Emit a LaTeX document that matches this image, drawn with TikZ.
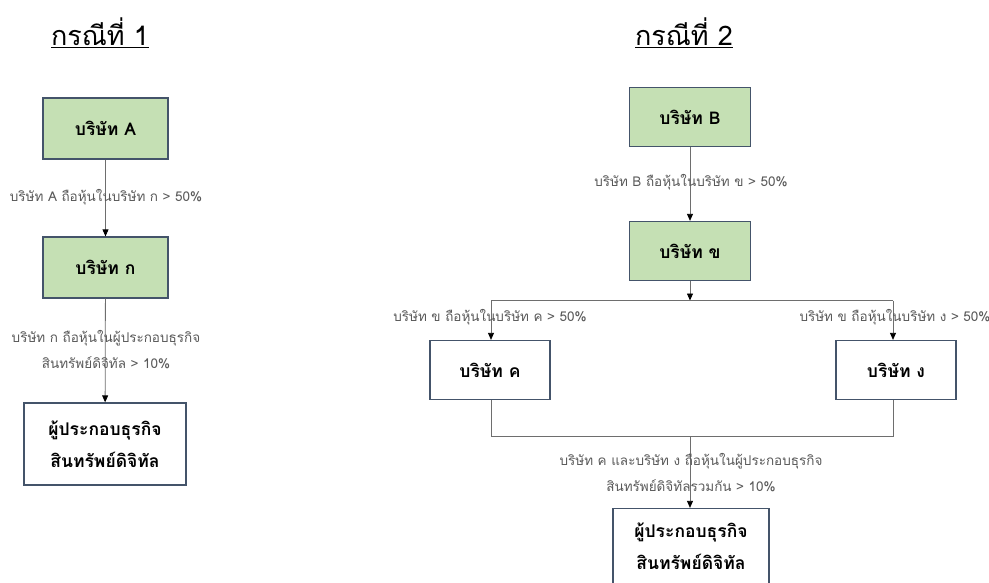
\documentclass[tikz,border=0pt]{standalone}
\usepackage{fontspec}
\newfontfamily\thaifont[Script=Thai]{Loma}
\usetikzlibrary{arrows.meta,calc}
\definecolor{boxgreen}{RGB}{197,224,180}
\definecolor{boxedge}{RGB}{68,84,106}
\definecolor{labelgray}{RGB}{89,89,89}
\definecolor{linegray}{RGB}{110,110,110}
\tikzset{
  basebox/.style={draw=boxedge, line width=1.3pt, inner sep=0pt, font=\thaifont\bfseries\fontsize{17.5}{32}\selectfont, align=center},
  greenbox/.style={basebox, fill=boxgreen},
  whitebox/.style={basebox, fill=white},
  conn/.style={draw=linegray, line width=0.8pt, -{Triangle[length=7pt,width=6pt,fill=black,color=black]}},
  plainline/.style={draw=linegray, line width=0.8pt},
  lbl/.style={font=\thaifont\fontsize{13.5}{26}\selectfont, text=labelgray, align=center, inner sep=0pt},
  ttl/.style={font=\thaifont\fontsize{27}{30}\selectfont, inner sep=0pt}
}
\begin{document}
\begin{tikzpicture}[x=1pt,y=-1pt]
\useasboundingbox (0,0) rectangle (989,582);
\clip (0,0) rectangle (989,582);
% titles
\node[ttl] (t1) at (100,33) {\underline{กรณีที่ 1}};
\node[ttl] (t2) at (684,33) {\underline{กรณีที่ 2}};
% case 1
\node[greenbox, minimum width=125pt, minimum height=61pt] (A) at (105.5,128.5) {บริษัท A};
\node[greenbox, minimum width=125pt, minimum height=61pt] (K) at (105.5,267.5) {บริษัท ก};
\node[whitebox, minimum width=162pt, minimum height=82pt] (F1) at (105,444) {ผู้ประกอบธุรกิจ\\สินทรัพย์ดิจิทัล};
\draw[conn] (A) -- (K);
\draw[conn] (K) -- (F1);
\node[lbl] (lA) at (106,197.5) {บริษัท A ถือหุ้นในบริษัท ก > 50\%};
\node[lbl] (lK) at (106,350) {บริษัท ก ถือหุ้นในผู้ประกอบธุรกิจ\\สินทรัพย์ดิจิทัล > 10\%};
% case 2
\node[greenbox, minimum width=121pt, minimum height=59pt] (B) at (690,117) {บริษัท B};
\node[greenbox, minimum width=121pt, minimum height=59pt] (KH) at (690,251) {บริษัท ข};
\node[whitebox, minimum width=120pt, minimum height=59pt] (KC) at (490,370) {บริษัท ค};
\node[whitebox, minimum width=120pt, minimum height=59pt] (KD) at (896,370) {บริษัท ง};
\node[whitebox, minimum width=156pt, minimum height=76pt] (F2) at (691,546.5) {ผู้ประกอบธุรกิจ\\สินทรัพย์ดิจิทัล};
\coordinate (split) at (690,300.5);
\coordinate (sl) at (491,300.5);
\coordinate (sr) at (893,300.5);
\coordinate (join) at (690,436);
\coordinate (jl) at (491,436);
\coordinate (jr) at (893,436);
\draw[conn] (B) -- (KH);
\draw[conn] (KH.south) -- (split);
\draw[plainline] (sl) -- (sr);
\draw[conn] (sl) -- (sl |- KC.north);
\draw[conn] (sr) -- (sr |- KD.north);
\draw[plainline] (jl |- KC.south) -- (jl) -- (jr) -- (jr |- KD.south);
\draw[conn] (join) -- (join |- F2.north);
\node[lbl] (lB) at (691,182) {บริษัท B ถือหุ้นในบริษัท ข > 50\%};
\node[lbl] (lC) at (490,317) {บริษัท ข ถือหุ้นในบริษัท ค > 50\%};
\node[lbl] (lD) at (895,317) {บริษัท ข ถือหุ้นในบริษัท ง > 50\%};
\node[lbl] (lF) at (691,473) {บริษัท ค และบริษัท ง ถือหุ้นในผู้ประกอบธุรกิจ\\สินทรัพย์ดิจิทัลรวมกัน > 10\%};
\end{tikzpicture}
\end{document}
